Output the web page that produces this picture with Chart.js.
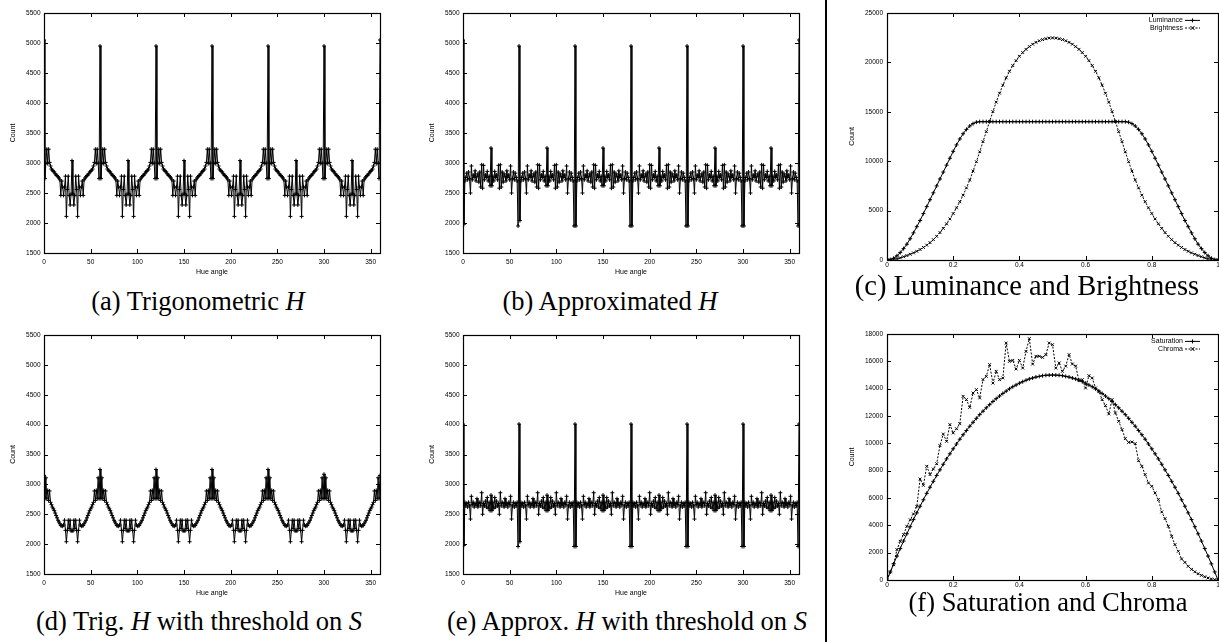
<!DOCTYPE html>
<html><head><meta charset="utf-8">
<script src="https://cdn.jsdelivr.net/npm/chart.js@4.4.1/dist/chart.umd.min.js"></script>
<style>
html,body{margin:0;padding:0;background:#fff;}
body{width:1219px;height:642px;position:relative;overflow:hidden;}
canvas{position:absolute;}
.cap{position:absolute;font-family:"Liberation Serif","Times New Roman",serif;font-size:26.5px;line-height:27px;white-space:nowrap;color:#000;text-align:center;width:600px;}
.cap i{font-style:italic;}
#divider{position:absolute;left:825px;top:0;width:2px;height:642px;background:#000;}
</style></head><body>
<canvas id="ca" width="384" height="282" style="left:0px;top:0px"></canvas>
<canvas id="cb" width="384" height="282" style="left:419px;top:0px"></canvas>
<canvas id="cc" width="395" height="272" style="left:828px;top:0px"></canvas>
<canvas id="cd" width="384" height="281" style="left:0px;top:322px"></canvas>
<canvas id="ce" width="384" height="281" style="left:419px;top:322px"></canvas>
<canvas id="cf" width="395" height="272" style="left:828px;top:320px"></canvas>
<div id="divider"></div>
<div class="cap" style="left:-102px;top:288px">(a) Trigonometric <i>H</i></div>
<div class="cap" style="left:310px;top:288px">(b) Approximated <i>H</i></div>
<div class="cap" style="left:727px;top:272px;font-size:28.5px">(c) Luminance and Brightness</div>
<div class="cap" style="left:-101px;top:608px">(d) Trig. <i>H</i> with threshold on <i>S</i></div>
<div class="cap" style="left:327px;top:608px">(e) Approx. <i>H</i> with threshold on <i>S</i></div>
<div class="cap" style="left:748px;top:589px">(f) Saturation and Chroma</div>
<script>
// ---- tick labels ----
const hueTicks = [0,50,100,150,200,250,300,350];
const hueCountTicks = [1500,2000,2500,3000,3500,4000,4500,5000,5500];
const levelTicks = [0,0.2,0.4,0.6,0.8,1];
const lumCountTicks = [0,5000,10000,15000,20000,25000];
const satCountTicks = [0,2000,4000,6000,8000,10000,12000,14000,16000,18000];

// ---- (a) Trigonometric H, count per hue degree 0..360 ----
const trigH = [
5050,2740,3000,3230,2990,3230,3010,2950,2900,2880,2860,2850,2820,2800,2790,2770,2750,2720,2460,2700,2600,2460,2600,2780,2110,2560,2780,2460,2300,2480,3040,2480,2300,2460,2780,2560,2110,2780,2600,2460,2600,2700,2460,2720,2750,2770,2790,2800,2820,2850,2860,2880,2900,2950,3010,3230,2990,3230,3000,2740,
4950,2740,3000,3230,2990,3230,3010,2950,2900,2880,2860,2850,2820,2800,2790,2770,2750,2720,2460,2700,2600,2460,2600,2780,2110,2560,2780,2460,2300,2480,3040,2480,2300,2460,2780,2560,2110,2780,2600,2460,2600,2700,2460,2720,2750,2770,2790,2800,2820,2850,2860,2880,2900,2950,3010,3230,2990,3230,3000,2740,
4950,2740,3000,3230,2990,3230,3010,2950,2900,2880,2860,2850,2820,2800,2790,2770,2750,2720,2460,2700,2600,2460,2600,2780,2110,2560,2780,2460,2300,2480,3040,2480,2300,2460,2780,2560,2110,2780,2600,2460,2600,2700,2460,2720,2750,2770,2790,2800,2820,2850,2860,2880,2900,2950,3010,3230,2990,3230,3000,2740,
4950,2740,3000,3230,2990,3230,3010,2950,2900,2880,2860,2850,2820,2800,2790,2770,2750,2720,2460,2700,2600,2460,2600,2780,2110,2560,2780,2460,2300,2480,3040,2480,2300,2460,2780,2560,2110,2780,2600,2460,2600,2700,2460,2720,2750,2770,2790,2800,2820,2850,2860,2880,2900,2950,3010,3230,2990,3230,3000,2740,
4950,2740,3000,3230,2990,3230,3010,2950,2900,2880,2860,2850,2820,2800,2790,2770,2750,2720,2460,2700,2600,2460,2600,2780,2110,2560,2780,2460,2300,2480,3040,2480,2300,2460,2780,2560,2110,2780,2600,2460,2600,2700,2460,2720,2750,2770,2790,2800,2820,2850,2860,2880,2900,2950,3010,3230,2990,3230,3000,2740,
4950,2740,3000,3230,2990,3230,3010,2950,2900,2880,2860,2850,2820,2800,2790,2770,2750,2720,2460,2700,2600,2460,2600,2780,2110,2560,2780,2460,2300,2480,3040,2480,2300,2460,2780,2560,2110,2780,2600,2460,2600,2700,2460,2720,2750,2770,2790,2800,2820,2850,2860,2880,2900,2950,3010,3230,2990,3230,3000,2740,
5050];

// ---- (b) Approximated H ----
const approxH = [
5050,1980,2700,2760,2830,2720,2850,2740,2500,2950,2720,2800,2760,2870,2700,2780,2820,2680,2850,2600,2970,2580,2960,2720,2800,2760,2860,2700,2780,2620,3250,2620,2780,2700,2860,2760,2800,2720,2960,2580,2970,2600,2850,2680,2820,2780,2700,2870,2760,2800,2720,2950,2500,2740,2850,2720,2830,2760,2700,1950,
4950,2040,2700,2760,2830,2720,2850,2740,2500,2950,2720,2800,2760,2870,2700,2780,2820,2680,2850,2600,2970,2580,2960,2720,2800,2760,2860,2700,2780,2620,3250,2620,2780,2700,2860,2760,2800,2720,2960,2580,2970,2600,2850,2680,2820,2780,2700,2870,2760,2800,2720,2950,2500,2740,2850,2720,2830,2760,2700,1950,
4950,1950,2700,2760,2830,2720,2850,2740,2500,2950,2720,2800,2760,2870,2700,2780,2820,2680,2850,2600,2970,2580,2960,2720,2800,2760,2860,2700,2780,2620,3250,2620,2780,2700,2860,2760,2800,2720,2960,2580,2970,2600,2850,2680,2820,2780,2700,2870,2760,2800,2720,2950,2500,2740,2850,2720,2830,2760,2700,1950,
4950,1950,2700,2760,2830,2720,2850,2740,2500,2950,2720,2800,2760,2870,2700,2780,2820,2680,2850,2600,2970,2580,2960,2720,2800,2760,2860,2700,2780,2620,3250,2620,2780,2700,2860,2760,2800,2720,2960,2580,2970,2600,2850,2680,2820,2780,2700,2870,2760,2800,2720,2950,2500,2740,2850,2720,2830,2760,2700,1950,
4950,1950,2700,2760,2830,2720,2850,2740,2500,2950,2720,2800,2760,2870,2700,2780,2820,2680,2850,2600,2970,2580,2960,2720,2800,2760,2860,2700,2780,2620,3250,2620,2780,2700,2860,2760,2800,2720,2960,2580,2970,2600,2850,2680,2820,2780,2700,2870,2760,2800,2720,2950,2500,2740,2850,2720,2830,2760,2700,1950,
4950,1950,2700,2760,2830,2720,2850,2740,2500,2950,2720,2800,2760,2870,2700,2780,2820,2680,2850,2600,2970,2580,2960,2720,2800,2760,2860,2700,2780,2620,3250,2620,2780,2700,2860,2760,2800,2720,2960,2580,2970,2600,2850,2680,2820,2780,2700,2870,2760,2800,2720,2950,2500,2740,2850,2720,2830,2760,2700,1950,
5050];

// ---- (d) Trig. H with threshold on S ----
const trigHThr = [
3150,2760,3110,2760,2900,2730,2890,2700,2660,2620,2590,2560,2520,2480,2440,2400,2370,2340,2310,2310,2300,2320,2400,2230,2040,2230,2400,2260,2400,2220,2230,2220,2400,2260,2400,2230,2040,2230,2400,2320,2300,2310,2310,2340,2370,2400,2440,2480,2520,2560,2590,2620,2660,2700,2890,2730,2900,2760,3110,2760,
3250,2760,3110,2760,2900,2730,2890,2700,2660,2620,2590,2560,2520,2480,2440,2400,2370,2340,2310,2310,2300,2320,2400,2230,2040,2230,2400,2260,2400,2220,2230,2220,2400,2260,2400,2230,2040,2230,2400,2320,2300,2310,2310,2340,2370,2400,2440,2480,2520,2560,2590,2620,2660,2700,2890,2730,2900,2760,3110,2760,
3250,2760,3110,2760,2900,2730,2890,2700,2660,2620,2590,2560,2520,2480,2440,2400,2370,2340,2310,2310,2300,2320,2400,2230,2040,2230,2400,2260,2400,2220,2230,2220,2400,2260,2400,2230,2040,2230,2400,2320,2300,2310,2310,2340,2370,2400,2440,2480,2520,2560,2590,2620,2660,2700,2890,2730,2900,2760,3110,2760,
3250,2760,3110,2760,2900,2730,2890,2700,2660,2620,2590,2560,2520,2480,2440,2400,2370,2340,2310,2310,2300,2320,2400,2230,2040,2230,2400,2260,2400,2220,2230,2220,2400,2260,2400,2230,2040,2230,2400,2320,2300,2310,2310,2340,2370,2400,2440,2480,2520,2560,2590,2620,2660,2700,2890,2730,2900,2760,3110,2760,
3250,2760,3110,2760,2900,2730,2890,2700,2660,2620,2590,2560,2520,2480,2440,2400,2370,2340,2310,2310,2300,2320,2400,2230,2040,2230,2400,2260,2400,2220,2230,2220,2400,2260,2400,2230,2040,2230,2400,2320,2300,2310,2310,2340,2370,2400,2440,2480,2520,2560,2590,2620,2660,2700,2890,2730,2900,2760,3110,2760,
3170,2760,3110,2760,2900,2730,2890,2700,2660,2620,2590,2560,2520,2480,2440,2400,2370,2340,2310,2310,2300,2320,2400,2230,2040,2230,2400,2260,2400,2220,2230,2220,2400,2260,2400,2230,2040,2230,2400,2320,2300,2310,2310,2340,2370,2400,2440,2480,2520,2560,2590,2620,2660,2700,2890,2730,2900,2760,3110,2760,
3150];

// ---- (e) Approx. H with threshold on S ----
const approxHThr = [
4010,1980,2700,2640,2680,2620,2700,2640,2420,2800,2660,2700,2620,2680,2650,2760,2620,2680,2700,2640,2860,2500,2680,2640,2720,2620,2780,2600,2700,2560,2820,2560,2700,2600,2780,2620,2720,2640,2680,2500,2860,2640,2700,2680,2620,2760,2650,2680,2620,2700,2660,2800,2420,2640,2700,2620,2680,2640,2700,1960,
4010,2040,2700,2640,2680,2620,2700,2640,2420,2800,2660,2700,2620,2680,2650,2760,2620,2680,2700,2640,2860,2500,2680,2640,2720,2620,2780,2600,2700,2560,2820,2560,2700,2600,2780,2620,2720,2640,2680,2500,2860,2640,2700,2680,2620,2760,2650,2680,2620,2700,2660,2800,2420,2640,2700,2620,2680,2640,2700,1960,
4010,1960,2700,2640,2680,2620,2700,2640,2420,2800,2660,2700,2620,2680,2650,2760,2620,2680,2700,2640,2860,2500,2680,2640,2720,2620,2780,2600,2700,2560,2820,2560,2700,2600,2780,2620,2720,2640,2680,2500,2860,2640,2700,2680,2620,2760,2650,2680,2620,2700,2660,2800,2420,2640,2700,2620,2680,2640,2700,1960,
4010,1960,2700,2640,2680,2620,2700,2640,2420,2800,2660,2700,2620,2680,2650,2760,2620,2680,2700,2640,2860,2500,2680,2640,2720,2620,2780,2600,2700,2560,2820,2560,2700,2600,2780,2620,2720,2640,2680,2500,2860,2640,2700,2680,2620,2760,2650,2680,2620,2700,2660,2800,2420,2640,2700,2620,2680,2640,2700,1960,
4010,1960,2700,2640,2680,2620,2700,2640,2420,2800,2660,2700,2620,2680,2650,2760,2620,2680,2700,2640,2860,2500,2680,2640,2720,2620,2780,2600,2700,2560,2820,2560,2700,2600,2780,2620,2720,2640,2680,2500,2860,2640,2700,2680,2620,2760,2650,2680,2620,2700,2660,2800,2420,2640,2700,2620,2680,2640,2700,1960,
4010,1960,2700,2640,2680,2620,2700,2640,2420,2800,2660,2700,2620,2680,2650,2760,2620,2680,2700,2640,2860,2500,2680,2640,2720,2620,2780,2600,2700,2560,2820,2560,2700,2600,2780,2620,2720,2640,2680,2500,2860,2640,2700,2680,2620,2760,2650,2680,2620,2700,2660,2800,2420,2640,2700,2620,2680,2640,2700,1960,
4010];

// ---- (c) Luminance / Brightness, level 0..1 step 0.01 ----
const luminance = [
0,40,180,420,750,1150,1600,2150,2750,3370,
4000,4700,5400,6100,6800,7500,8200,8900,9600,10300,
11000,11650,12250,12780,13220,13560,13800,13950,14000,14000,
14000,14000,14000,14000,14000,14000,14000,14000,14000,14000,
14000,14000,14000,14000,14000,14000,14000,14000,14000,14000,
14000,14000,14000,14000,14000,14000,14000,14000,14000,14000,
14000,14000,14000,14000,14000,14000,14000,14000,14000,14000,
14000,14000,14000,13950,13800,13560,13220,12780,12250,11650,
11000,10300,9600,8900,8200,7500,6800,6100,5400,4700,
4000,3370,2750,2150,1600,1150,750,420,180,40,0];
const brightness = [
0,15,60,130,220,330,450,580,720,880,
1060,1270,1500,1760,2060,2400,2780,3200,3660,4160,
4700,5280,5900,6560,7300,8100,9000,9950,10950,11980,
13000,14020,15020,15980,16880,17700,18440,19100,19680,20180,
20620,21000,21320,21600,21840,22030,22190,22310,22400,22460,
22480,
22460,22400,22310,22190,22030,21840,21600,21320,21000,20620,
20180,19680,19100,18440,17700,16880,15980,15020,14020,13000,
11980,10950,9950,9000,8100,7300,6560,5900,5280,4700,
4160,3660,3200,2780,2400,2060,1760,1500,1270,1060,
880,720,580,450,330,220,130,60,15,0];

// ---- (f) Saturation / Chroma ----
const saturation = [
0,590,1180,1750,2300,2850,3380,3900,4420,4910,
5400,5870,6340,6790,7220,7650,8060,8470,8860,9230,
9600,9950,10300,10630,10940,11250,11540,11830,12100,12350,
12600,12830,13060,13270,13460,13650,13820,13990,14140,14270,
14400,14510,14620,14710,14780,14850,14900,14950,14980,14990,
15000,
14990,14980,14950,14900,14850,14780,14710,14620,14510,14400,
14270,14140,13990,13820,13650,13460,13270,13060,12830,12600,
12350,12100,11830,11540,11250,10940,10630,10300,9950,9600,
9230,8860,8470,8060,7650,7220,6790,6340,5870,5400,
4910,4420,3900,3380,2850,2300,1750,1180,590,0];
const chroma = [
0,600,1120,2220,2830,3320,3930,4410,4830,5390,
7390,6930,8320,7710,8120,8510,9830,10680,10150,11370,
10760,11070,11440,13440,13200,12630,13680,13930,13320,14660,
14900,15760,14410,15270,14660,14780,17340,16000,16070,15440,
16070,15510,16730,17660,15800,16370,16370,16290,16490,17340,
17220,15510,15880,15270,15650,16490,15800,15650,14590,14660,
14050,14950,14780,14050,13800,13200,12760,12150,13200,12220,
11610,11000,10340,10070,10100,9980,8730,8320,7710,7100,
6850,6370,5880,4980,4490,3930,3200,2590,2100,1540,
1290,1000,780,600,460,340,240,150,80,30,0];

// category grids
const hues = trigH.map((_, i) => i);          // hue angle in degrees
const levels = luminance.map((_, i) => i / 100); // normalised level

Chart.defaults.font.family = '"Liberation Sans", Arial, sans-serif';
Chart.defaults.color = '#000';

function drawMarker(ctx, kind, x, y, r) {
  ctx.beginPath();
  if (kind === 'cross') { ctx.moveTo(x - r, y); ctx.lineTo(x + r, y); ctx.moveTo(x, y - r); ctx.lineTo(x, y + r); }
  else { ctx.moveTo(x - r, y - r); ctx.lineTo(x + r, y + r); ctx.moveTo(x - r, y + r); ctx.lineTo(x + r, y - r); }
  ctx.stroke();
}

const gp = {
  id: 'gp',
  afterDatasetsDraw(chart, args, opts) {
    const {ctx, chartArea: a, scales: {x, y}} = chart;
    ctx.save();
    ctx.strokeStyle = '#000';
    ctx.lineWidth = 1;
    ctx.setLineDash([]);
    const L = 4;
    ctx.beginPath();
    x.ticks.forEach(t => {
      const px = Math.round(x.getPixelForValue(t.value)) + 0.5;
      ctx.moveTo(px, a.bottom); ctx.lineTo(px, a.bottom - L);
      ctx.moveTo(px, a.top); ctx.lineTo(px, a.top + L);
    });
    y.ticks.forEach(t => {
      const py = Math.round(y.getPixelForValue(t.value)) + 0.5;
      ctx.moveTo(a.left, py); ctx.lineTo(a.left + L, py);
      ctx.moveTo(a.right, py); ctx.lineTo(a.right - L, py);
    });
    ctx.stroke();
    ctx.lineWidth = 1.2;
    ctx.strokeRect(Math.round(a.left) + 0.5, Math.round(a.top) + 0.5, Math.round(a.right - a.left), Math.round(a.bottom - a.top));
    if (opts.items) {
      ctx.font = '7px "Liberation Sans", Arial, sans-serif';
      ctx.fillStyle = '#000';
      ctx.textAlign = 'right';
      ctx.textBaseline = 'middle';
      opts.items.forEach((it, i) => {
        const yy = a.top + 7.4 + i * 7.6;
        ctx.fillText(it.text, a.right - 35, yy);
        ctx.lineWidth = 1;
        ctx.setLineDash(it.dash);
        ctx.beginPath(); ctx.moveTo(a.right - 33, yy); ctx.lineTo(a.right - 18, yy); ctx.stroke();
        ctx.setLineDash([]);
        drawMarker(ctx, it.marker, a.right - 25.5, yy, 2);
      });
    }
    ctx.restore();
  }
};

function plot(id, o) {
  return new Chart(document.getElementById(id), {
    type: 'line',
    data: {
      datasets: o.series.map(s => ({
        label: s.label,
        data: s.values.map((v, i) => ({x: o.xs[i], y: v})),
        borderColor: '#000', borderWidth: 1, borderDash: s.dash || [],
        pointStyle: s.marker, pointRadius: s.r || 2, pointBorderColor: '#000',
        pointBorderWidth: 1, pointBackgroundColor: '#000', pointHoverRadius: 0,
        tension: 0, fill: false
      }))
    },
    options: {
      responsive: false, animation: false, events: [],
      layout: {padding: o.pad},
      plugins: {legend: {display: false}, tooltip: {enabled: false}, gp: {items: o.legend || null}},
      scales: {
        x: {
          type: 'linear', min: o.xmin, max: o.xmax,
          afterBuildTicks: s => { s.ticks = o.xticks.map(v => ({value: v})); },
          afterFit: s => { s.height = o.xH; },
          grid: {display: false, drawTicks: false}, border: {display: false},
          ticks: {autoSkip: false, maxRotation: 0, padding: o.xTickPad, color: '#000',
                  font: {size: 6.5}, callback: v => String(v)},
          title: o.xTitle ? {display: true, text: o.xTitle, color: '#000', font: {size: 7},
                             padding: {top: 0, bottom: o.xTitlePad}} : {display: false}
        },
        y: {
          type: 'linear', min: o.ymin, max: o.ymax,
          afterBuildTicks: s => { s.ticks = o.yticks.map(v => ({value: v})); },
          afterFit: s => { s.width = o.yW; },
          grid: {display: false, drawTicks: false}, border: {display: false},
          ticks: {autoSkip: false, padding: o.yTickPad, color: '#000',
                  font: {size: 6.5}, callback: v => String(v)},
          title: {display: true, text: 'Count', color: '#000', font: {size: 7},
                  padding: {top: o.yTitlePad, bottom: 0}}
        }
      }
    },
    plugins: [gp]
  });
}

function huePlot(id, values) {
  return plot(id, {
    xs: hues, xmin: 0, xmax: 360, xticks: hueTicks,
    ymin: 1500, ymax: 5500, yticks: hueCountTicks,
    series: [{label: 'Count', values: values, marker: 'cross', r: 2}],
    pad: {left: 0, right: 4, top: 13, bottom: 0},
    xH: 29, yW: 44, xTickPad: 5, yTickPad: 3.5,
    xTitle: 'Hue angle', xTitlePad: 5.5, yTitlePad: 8.8
  });
}

huePlot('ca', trigH);
huePlot('cb', approxH);
huePlot('cd', trigHThr);
huePlot('ce', approxHThr);

plot('cc', {
  xs: levels, xmin: 0, xmax: 1, xticks: levelTicks,
  ymin: 0, ymax: 25000, yticks: lumCountTicks,
  series: [
    {label: 'Luminance', values: luminance, marker: 'cross', r: 2},
    {label: 'Brightness', values: brightness, marker: 'crossRot', r: 2, dash: [2, 1.5]}
  ],
  legend: [{text: 'Luminance', dash: [], marker: 'cross'}, {text: 'Brightness', dash: [2, 1.5], marker: 'x'}],
  pad: {left: 0, right: 5, top: 13, bottom: 0},
  xH: 12, yW: 59, xTickPad: 1, yTickPad: 4, yTitlePad: 19.5
});

plot('cf', {
  xs: levels, xmin: 0, xmax: 1, xticks: levelTicks,
  ymin: 0, ymax: 18000, yticks: satCountTicks,
  series: [
    {label: 'Saturation', values: saturation, marker: 'cross', r: 2},
    {label: 'Chroma', values: chroma, marker: 'crossRot', r: 2, dash: [2, 1.5]}
  ],
  legend: [{text: 'Saturation', dash: [], marker: 'cross'}, {text: 'Chroma', dash: [2, 1.5], marker: 'x'}],
  pad: {left: 0, right: 5, top: 14, bottom: 0},
  xH: 12, yW: 59, xTickPad: 1, yTickPad: 4, yTitlePad: 19.5
});
</script>
</body></html>
